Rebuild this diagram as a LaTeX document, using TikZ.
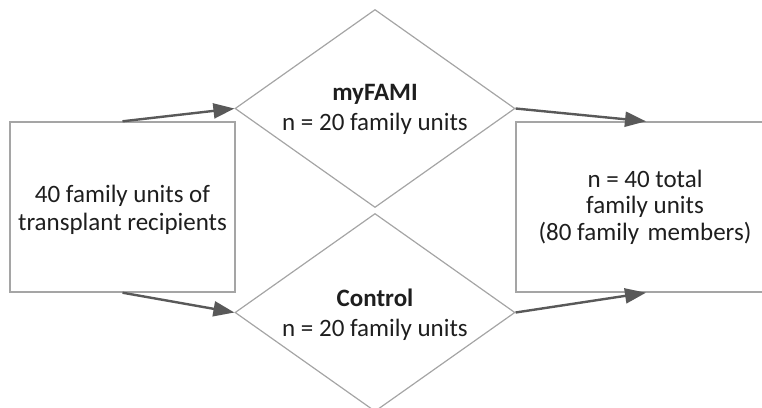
\documentclass[tikz,border=0pt]{standalone}
\usepackage{fontspec}
\setmainfont{Carlito}
\usetikzlibrary{positioning,shapes.geometric,arrows.meta}

\definecolor{boxgray}{RGB}{165,165,165}
\definecolor{arrowgray}{RGB}{89,89,89}
\definecolor{textgray}{RGB}{30,30,30}

\tikzset{
  groupbox/.style={draw=boxgray,line width=1.4pt,minimum width=225pt,minimum height=170pt,inner sep=0pt},
  armdiamond/.style={draw=boxgray,line width=1.2pt,diamond,minimum width=280pt,minimum height=198pt,inner sep=0pt},
  boxtext/.style={align=center,text=textgray,font=\fontsize{25}{28}\selectfont},
  flow/.style={draw=arrowgray,line width=2.4pt,-{Triangle[length=21pt,width=15pt]}}
}

\begin{document}
\begin{tikzpicture}[x=1pt,y=1pt,yscale=-1,xscale=1]
\useasboundingbox (0,0) rectangle (762,407);

%Shape: Rectangle [id:recipients]
\node[groupbox] (recipients) at (122.5,207) {};
%Shape: Rectangle [id:total] (right side runs past the page)
\node[groupbox,minimum width=260pt] (total) at (646,207) {};
%Shape: Diamond [id:fami]
\node[armdiamond] (fami) at (375,108.5) {};
%Shape: Diamond [id:control]
\node[armdiamond] (control) at (375,312.5) {};

%Straight Lines [id:split]
\draw[flow] (recipients.north) -- (fami.west);
\draw[flow] (recipients.south) -- (control.west);
%Straight Lines [id:merge]
\draw[flow] (fami.east) -- (total.north);
\draw[flow] (control.east) -- (total.south);

% Text Node
\node[boxtext] (recipientstxt) at (122.5,209.5) {40 family units of\\transplant recipients};
% Text Node
\node[boxtext,font=\fontsize{25}{30}\selectfont] (famitxt) at (375,109.5) {\textbf{myFAMI}\\n = 20 family units};
% Text Node
\node[boxtext,font=\fontsize{25}{30}\selectfont] (controltxt) at (375,315) {\textbf{Control}\\n = 20 family units};
% Text Node
\node[boxtext,font=\fontsize{25}{26.5}\selectfont] (totaltxt) at (645,207) {n = 40 total\\family units\\(80 family\hspace{3pt} members)};

\end{tikzpicture}
\end{document}
